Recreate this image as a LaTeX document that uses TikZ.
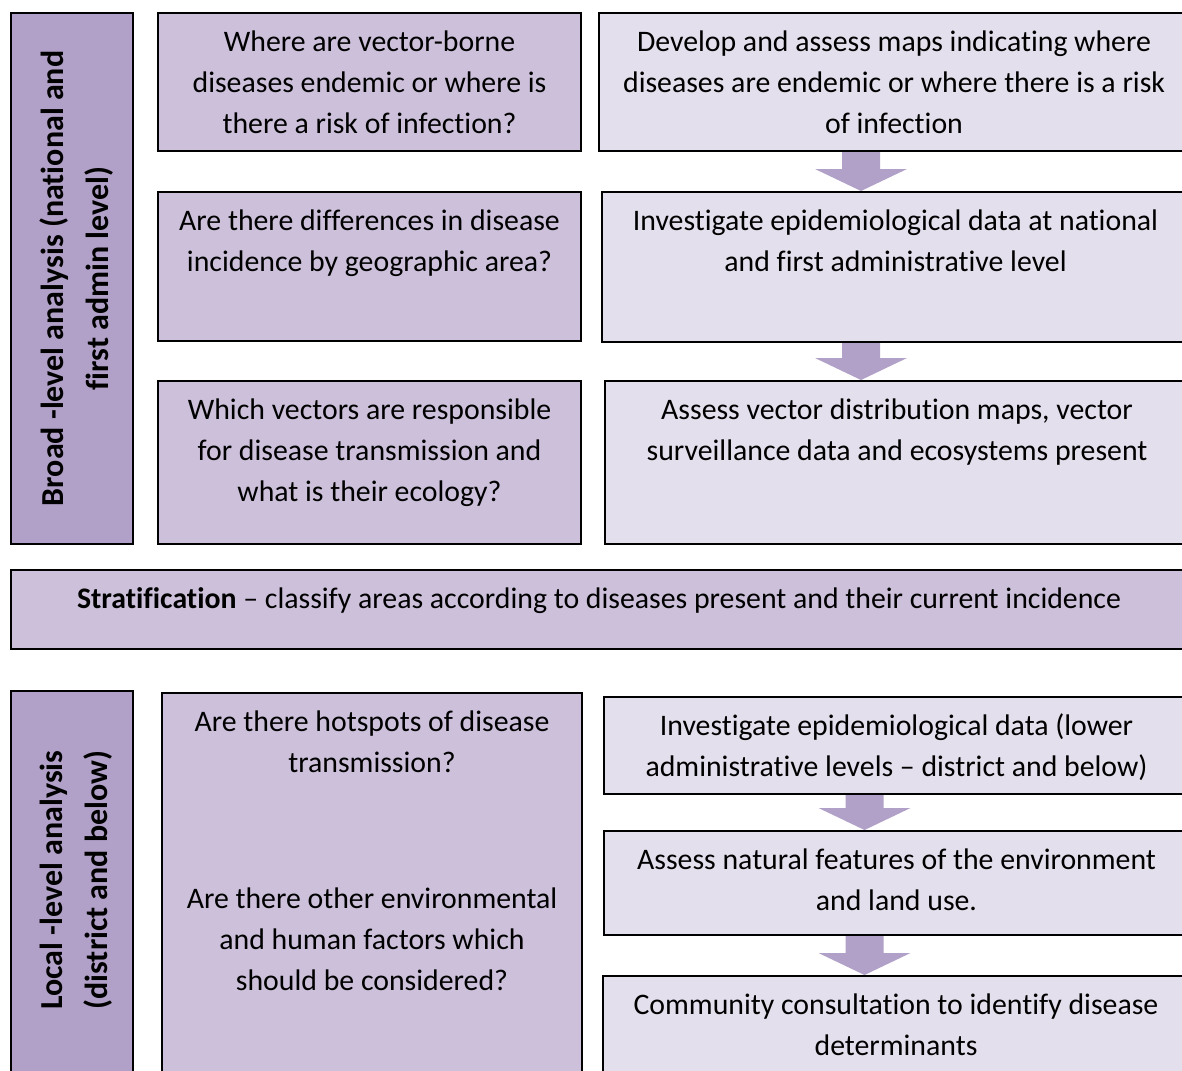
\documentclass[tikz,border=0pt]{standalone}
\usepackage{fontspec}
\setmainfont{Carlito}[Ligatures={TeX,NoCommon}]
\usetikzlibrary{positioning,calc,backgrounds}

\definecolor{labpurple}{HTML}{B1A0C7}
\definecolor{qpurple}{HTML}{CCC0DA}
\definecolor{apurple}{HTML}{E4DFEC}

\tikzset{
  box/.style={draw=black, line width=1pt, rectangle, anchor=north west, inner sep=0pt},
  labbox/.style={box, fill=labpurple},
  qbox/.style={box, fill=qpurple},
  abox/.style={box, fill=apurple},
  boxtext/.style={align=center, inner sep=0pt, font=\fontsize{14.9}{20.5}\selectfont},
  sidetext/.style={align=center, inner sep=0pt, rotate=90, font=\bfseries\fontsize{16}{22.5}\selectfont},
  arrowfill/.style={fill=labpurple}
}

% block arrow between two boxes: #1 x position, #2 upper box, #3 lower box
\newcommand{\blockarrow}[3]{%
  \fill[arrowfill] ($(#1 |- #2.south)+(-19,0)$) -- ($(#1 |- #2.south)+(19,0)$)
    -- ($(#1 |- #3.north)+(19,-22)$) -- ($(#1 |- #3.north)+(46,-22)$)
    -- (#1 |- #3.north) -- ($(#1 |- #3.north)+(-46,-22)$)
    -- ($(#1 |- #3.north)+(-19,-22)$) -- cycle;}

\begin{document}
\begin{tikzpicture}[x=0.5pt, y=-0.5pt]
  \useasboundingbox (0,0) rectangle (1182,1070);
  \clip (0,0) rectangle (1182,1070);

  % broad level
  \node[labbox, minimum width=61pt, minimum height=265.5pt] (broad) at (10,12) {};
  \node[sidetext] (broadt) at ($(broad.center)+(4.5,0)$) {Broad -level analysis (national and\\ first admin level)};

  \node[qbox, minimum width=211.5pt, minimum height=69pt] (q1) at (157,12) {};
  \node[abox, minimum width=295pt, minimum height=69pt] (a1) at (598,12) {};
  \node[qbox, minimum width=211.5pt, minimum height=74.5pt] (q2) at (157,191) {};
  \node[abox, minimum width=293.5pt, minimum height=75pt] (a2) at (601,191) {};
  \node[qbox, minimum width=211.5pt, minimum height=81.5pt] (q3) at (157,380) {};
  \node[abox, minimum width=292pt, minimum height=81.5pt] (a3) at (604,380) {};

  \node[boxtext, below=5.1pt of q1.north] (q1t) {\strut Where are vector-borne\\ diseases endemic or where is\\ there a risk of infection?};
  \node[boxtext, below=5.1pt of a1.north] (a1t) {\strut Develop and assess maps indicating where\\ diseases are endemic or where there is a risk\\ of infection};
  \node[boxtext, below=5.1pt of q2.north] (q2t) {\strut Are there differences in disease\\ incidence by geographic area?};
  \node[boxtext, below=5.1pt of a2.north] (a2t) {\strut Investigate epidemiological data at national\\ and first administrative level};
  \node[boxtext, below=5.1pt of q3.north] (q3t) {\strut Which vectors are responsible\\ for disease transmission and\\ what is their ecology?};
  \node[boxtext, below=5.1pt of a3.north] (a3t) {\strut Assess vector distribution maps, vector\\ surveillance data and ecosystems present};

  % stratification
  \node[qbox, minimum width=588pt, minimum height=39.5pt] (strat) at (10,569) {};
  \node[boxtext, below=5.1pt of strat.north] (stratt) {\strut\textbf{Stratification} -- classify areas according to diseases present and their current incidence};

  % local level
  \node[labbox, minimum width=61pt, minimum height=192pt] (local) at (10,690) {};
  \node[sidetext] (localt) at ($(local.north)+(4.5,190)$) {Local -level analysis\\ (district and below)};

  \node[qbox, minimum width=210pt, minimum height=192pt] (q4) at (161,692) {};
  \node[abox, minimum width=292.5pt, minimum height=48.5pt] (a4) at (603,696) {};
  \node[abox, minimum width=292.5pt, minimum height=52pt] (a5) at (603,830) {};
  \node[abox, minimum width=293pt, minimum height=60pt] (a6) at (602,975) {};

  \node[boxtext, below=5.1pt of q4.north] (q4t) {\strut Are there hotspots of disease\\ transmission?\\[47.5pt] Are there other environmental\\ and human factors which\\ should be considered?};
  \node[boxtext, below=5.1pt of a4.north] (a4t) {\strut Investigate epidemiological data (lower\\ administrative levels -- district and below)};
  \node[boxtext, below=5.1pt of a5.north] (a5t) {\strut Assess natural features of the environment\\ and land use.};
  \node[boxtext, below=5.1pt of a6.north] (a6t) {\strut Community consultation to identify disease\\ determinants};

  % arrows
  \coordinate (upx) at (861,0);
  \coordinate (lowx) at (864.5,0);
  \begin{scope}[on background layer]
    \blockarrow{upx}{a1}{a2}
    \blockarrow{upx}{a2}{a3}
    \blockarrow{lowx}{a4}{a5}
    \blockarrow{lowx}{a5}{a6}
  \end{scope}
\end{tikzpicture}
\end{document}
